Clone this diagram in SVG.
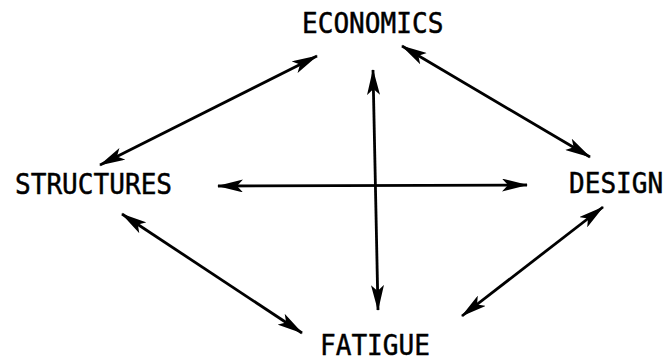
<svg xmlns="http://www.w3.org/2000/svg" width="671" height="361" viewBox="0 0 671 361">
<defs>
<marker id="ah" viewBox="0 0 26 13" refX="25" refY="6.5" markerWidth="26" markerHeight="13" markerUnits="userSpaceOnUse" orient="auto-start-reverse">
<path d="M0,0 L26,6.5 L0,13 L6,6.5 Z" fill="#000"/>
</marker>
<style>
.lbl{font-family:"DejaVu Sans Mono","Liberation Mono",monospace;font-size:29px;fill:#000;stroke:#000;stroke-width:0.5}
.con{stroke:#000;stroke-width:2.8;fill:none;marker-start:url(#ah);marker-end:url(#ah)}
</style>
</defs>
<rect width="671" height="361" fill="#fff"/>
<g id="economics"><text class="lbl" transform="translate(302,33) scale(0.9,1)">ECONOMICS</text></g>
<g id="structures"><text class="lbl" transform="translate(15,194) scale(0.9,1)">STRUCTURES</text></g>
<g id="design"><text class="lbl" transform="translate(569,193) scale(0.9,1)">DESIGN</text></g>
<g id="fatigue"><text class="lbl" transform="translate(320,355) scale(0.9,1)">FATIGUE</text></g>
<g id="connectors">
<line class="con" x1="317" y1="56" x2="100" y2="165"/>
<line class="con" x1="402" y1="46" x2="590" y2="157"/>
<line class="con" x1="373" y1="70" x2="378" y2="310"/>
<line class="con" x1="218" y1="186" x2="527" y2="185"/>
<line class="con" x1="122" y1="214" x2="302" y2="333"/>
<line class="con" x1="603" y1="207" x2="462" y2="316"/>
</g>
</svg>
